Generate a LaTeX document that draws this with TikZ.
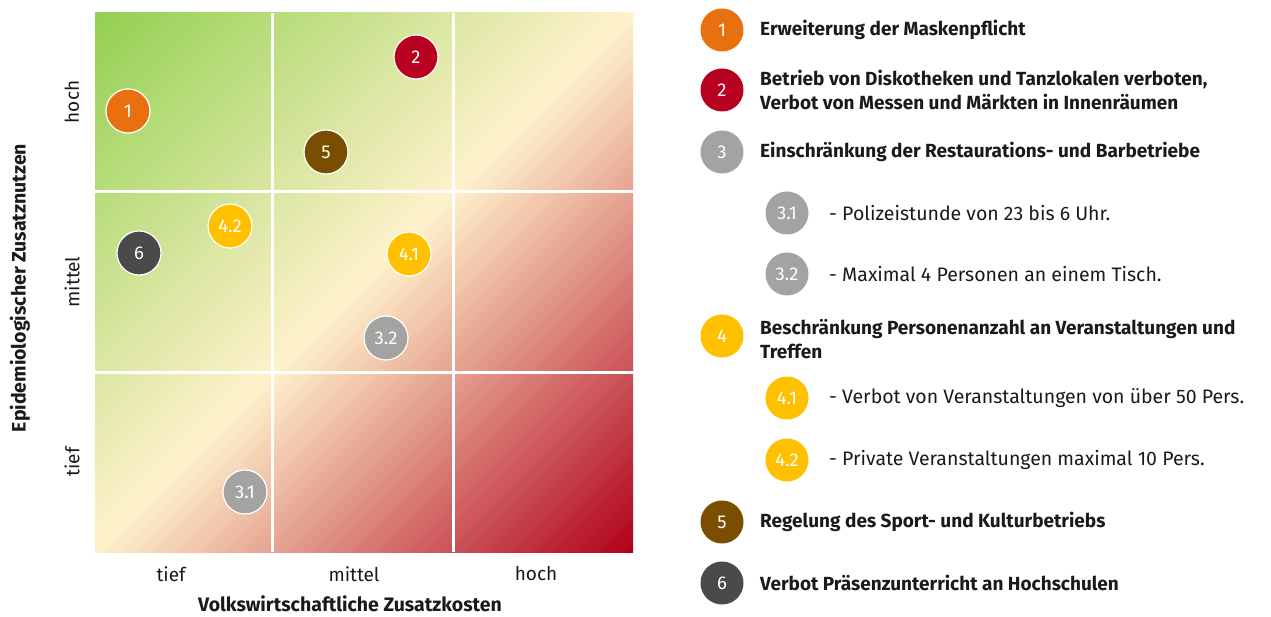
\documentclass[tikz,border=0pt]{standalone}
\usepackage{fontspec}
\setmainfont{Fira Sans}
\definecolor{cgreen}{HTML}{92D050}
\definecolor{ccream}{HTML}{FFF2CC}
\definecolor{cred}{HTML}{B0001A}
\definecolor{corange}{HTML}{E8700E}
\definecolor{cdred}{HTML}{B80020}
\definecolor{cgray}{HTML}{A3A3A1}
\definecolor{cyellow}{HTML}{FFC000}
\definecolor{cbrown}{HTML}{7A4E00}
\definecolor{cdgray}{HTML}{4A4A4A}
\definecolor{ctext}{HTML}{1A1A1A}
\tikzset{
  badge/.style={circle, minimum size=44pt, inner sep=0pt, draw=white, line width=1.2pt,
    text=white, font=\fontsize{18.5}{18.5}\selectfont},
  lbadge/.style={circle, minimum size=43pt, inner sep=0pt,
    text=white, font=\fontsize{18.5}{18.5}\selectfont},
  mainitem/.style={anchor=west, align=left, inner sep=0pt, text=ctext,
    font=\fontsize{19}{24}\selectfont\bfseries},
  subitem/.style={anchor=west, inner sep=0pt, text=ctext,
    font=\fontsize{19.5}{24}\selectfont},
  axlab/.style={inner sep=0pt, text=ctext, font=\fontsize{19}{19}\selectfont},
  axtitle/.style={inner sep=0pt, text=ctext, font=\fontsize{19.5}{19.5}\selectfont\bfseries},
  sep/.style={white, line width=3pt}
}
\begin{document}
\begin{tikzpicture}[x=1pt, y=-1pt]
\useasboundingbox (0,0) rectangle (1271,617);
% gradient field, drawn as thin diagonal strips
\begin{scope}
\clip (95,13) rectangle (633,552);
\foreach \i in {0,...,159}{
  \pgfmathsetmacro{\ca}{108+\i*6.73125}
  \pgfmathsetmacro{\cb}{\ca+7.6}
  \pgfmathsetmacro{\tpos}{(\i+0.5)/160}
  \ifdim\tpos pt<0.5pt
    \pgfmathsetmacro{\pc}{200*\tpos}
    \colorlet{stripcol}{ccream!\pc!cgreen}
  \else
    \pgfmathsetmacro{\pc}{200*(\tpos-0.5)}
    \colorlet{stripcol}{cred!\pc!ccream}
  \fi
  \fill[stripcol] (\ca+100,-100) -- (\cb+100,-100) -- (\cb-700,700) -- (\ca-700,700) -- cycle;
}
\end{scope}
% separators
\coordinate (v1t) at (272.5,13); \coordinate (v1b) at (272.5,552);
\coordinate (v2t) at (453,13);   \coordinate (v2b) at (453,552);
\coordinate (h1l) at (95,192);   \coordinate (h1r) at (633,192);
\coordinate (h2l) at (95,372);   \coordinate (h2r) at (633,372);
\draw[sep] (v1t) -- (v1b);
\draw[sep] (v2t) -- (v2b);
\draw[sep] (h1l) -- (h1r);
\draw[sep] (h2l) -- (h2r);
% badges in grid
\node[badge, fill=corange] (g1) at (128,111) {1};
\node[badge, fill=cdred] (g2) at (416,57) {2};
\node[badge, fill=cbrown] (g5) at (326,152) {5};
\node[badge, fill=cyellow] (g42) at (230,226) {4.2};
\node[badge, fill=cdgray] (g6) at (139,253) {6};
\node[badge, fill=cyellow] (g41) at (409,254) {4.1};
\node[badge, fill=cgray] (g32) at (386,338) {3.2};
\node[badge, fill=cgray] (g31) at (245,492) {3.1};
% axis labels
\node[axlab] (xl1) at (171,574) {tief};
\node[axlab] (xl2) at (354,574) {mittel};
\node[axlab] (xl3) at (536,574) {hoch};
\node[axtitle] (xt) at (350,604) {Volkswirtschaftliche Zusatzkosten};
\node[axlab, rotate=90] (yl1) at (72,102) {hoch};
\node[axlab, rotate=90] (yl2) at (72,282) {mittel};
\node[axlab, rotate=90] (yl3) at (72,462) {tief};
\node[axtitle, rotate=90] (yt) at (20,288) {Epidemiologischer Zusatznutzen};
% legend
\node[lbadge, fill=corange] (l1) at (722,30) {1};
\node[mainitem] (t1) at (760,30) {Erweiterung der Maskenpflicht};
\node[lbadge, fill=cdred] (l2) at (722,90) {2};
\node[mainitem] (t2) at (760,90) {Betrieb von Diskotheken und Tanzlokalen verboten,\\Verbot von Messen und Märkten in Innenräumen};
\node[lbadge, fill=cgray] (l3) at (722,152) {3};
\node[mainitem] (t3) at (760,152) {Einschränkung der Restaurations- und Barbetriebe};
\node[lbadge, fill=cgray] (l31) at (787,213) {3.1};
\node[subitem] (t31) at (829,213) {- Polizeistunde von 23 bis 6 Uhr.};
\node[lbadge, fill=cgray] (l32) at (787,274) {3.2};
\node[subitem] (t32) at (829,274) {- Maximal 4 Personen an einem Tisch.};
\node[lbadge, fill=cyellow] (l4) at (722,336) {4};
\node[mainitem] (t4) at (760,339) {Beschränkung Personenanzahl an Veranstaltungen und\\Treffen};
\node[lbadge, fill=cyellow] (l41) at (787,398) {4.1};
\node[subitem] (t41) at (829,398) {- Verbot von Veranstaltungen von über 50 Pers.};
\node[lbadge, fill=cyellow] (l42) at (787,460) {4.2};
\node[subitem] (t42) at (829,460) {- Private Veranstaltungen maximal 10 Pers.};
\node[lbadge, fill=cbrown] (l5) at (722,522) {5};
\node[mainitem] (t5) at (760,522) {Regelung des Sport- und Kulturbetriebs};
\node[lbadge, fill=cdgray] (l6) at (722,583) {6};
\node[mainitem] (t6) at (760,583) {Verbot Präsenzunterricht an Hochschulen};
\end{tikzpicture}
\end{document}
